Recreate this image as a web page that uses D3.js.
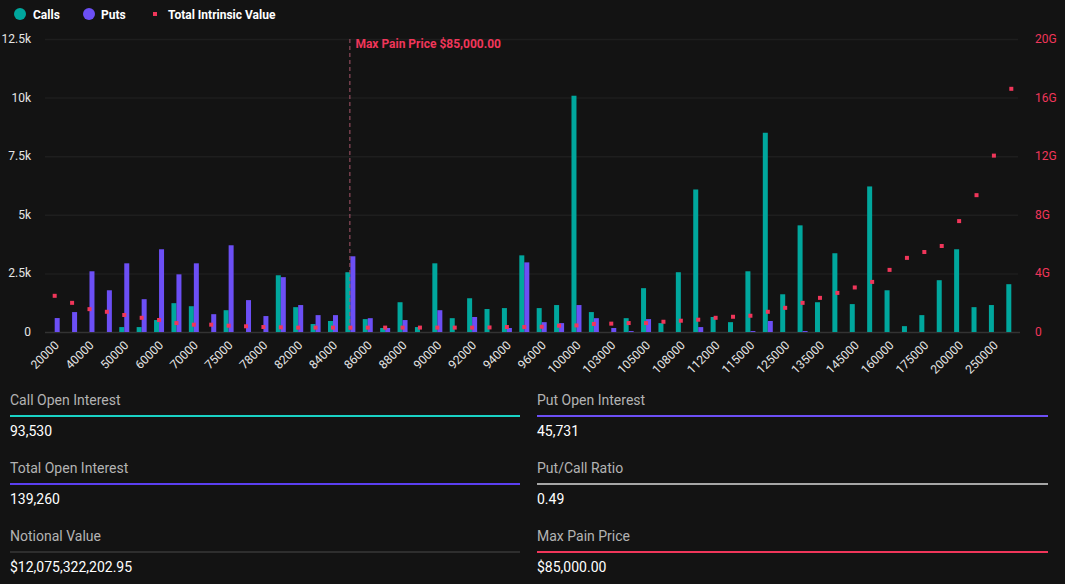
<!DOCTYPE html>
<html><head><meta charset="utf-8">
<script src="https://cdn.jsdelivr.net/npm/d3@7"></script>
<style>
html,body{margin:0;padding:0;background:#131313;}
svg{display:block;font-family:Roboto,"Noto Sans",sans-serif;}
</style></head>
<body>
<svg id="c" width="1065" height="584"></svg>
<script>
const strikes = ["20000","30000","40000","45000","50000","55000","60000","65000","70000","72000","75000","76000","78000","80000","82000","83000","84000","85000","86000","87000","88000","89000","90000","91000","92000","93000","94000","95000","96000","98000","100000","102000","103000","104000","105000","106000","108000","110000","112000","114000","115000","120000","125000","130000","135000","140000","145000","150000","160000","170000","175000","180000","200000","220000","250000","300000"];
const callsOI = [0,0,0,0,210,210,510,1230,1100,0,930,0,0,2420,1060,340,470,2550,550,170,1270,210,2930,590,1440,980,1020,3270,1020,1150,10080,850,0,590,1870,380,2550,6080,640,420,2590,8500,1610,4550,1270,3360,1190,6210,1780,250,720,2210,3530,1060,1150,2040];
const putsOI = [595,850,2590,1780,2930,1400,3530,2460,2930,760,3700,1360,680,2340,1150,720,720,3230,590,170,510,0,930,0,640,0,170,2970,420,380,1150,590,170,40,550,0,0,210,0,0,40,470,0,40,0,0,0,0,0,0,0,0,0,0,0,0];
const intrinsicG = [2.47,1.99,1.56,1.38,1.16,0.97,0.82,0.61,0.50,0.50,0.43,0.39,0.34,0.32,0.30,0.30,0.30,0.30,0.30,0.30,0.30,0.30,0.30,0.30,0.30,0.31,0.34,0.34,0.36,0.43,0.45,0.55,0.57,0.61,0.61,0.70,0.77,0.84,0.97,1.04,1.11,1.38,1.65,1.99,2.33,2.67,3.04,3.42,4.24,5.06,5.46,5.87,7.57,9.34,12.04,16.6];
const leftTicks = [0,2500,5000,7500,10000,12500];
const leftTickLabels = ["0","2.5k","5k","7.5k","10k","12.5k"];
const rightTicks = [0,4,8,12,16,20];
const rightTickLabels = ["0","4G","8G","12G","16G","20G"];
const maxPainStrike = "85000";
const statLabels = ["Call Open Interest","Put Open Interest","Total Open Interest","Put/Call Ratio","Notional Value","Max Pain Price"];
const statValues = ["93,530","45,731","139,260","0.49","$12,075,322,202.95","$85,000.00"];
const statColors = ["#19d3c5","#6c4ff5","#5b3ff0","#a6a6a6","#2e2e2e","#f0365a"];

const CALL="#00a79d", PUT="#6c4ff5", RED="#f0365a";
const svg = d3.select("#c");
const x0 = 46, x1 = 1020, yTop = 39, yBot = 332;
const x = d3.scaleBand().domain(strikes).range([x0,x1]).padding(0);
const yL = d3.scaleLinear().domain([0,12500]).range([yBot,yTop]);
const yR = d3.scaleLinear().domain([0,20]).range([yBot,yTop]);
const bw = 5;

// grid
svg.append("g").selectAll("line").data(leftTicks.slice(1)).join("line")
  .attr("x1",45).attr("x2",1018).attr("y1",d=>yL(d)+0.5).attr("y2",d=>yL(d)+0.5)
  .attr("stroke","#1e1e1e").attr("stroke-width",1.5);
svg.append("line").attr("x1",45).attr("x2",1020).attr("y1",yBot+0.5).attr("y2",yBot+0.5)
  .attr("stroke","#333").attr("stroke-width",1.5);

// left axis labels
svg.append("g").selectAll("text").data(leftTicks).join("text")
  .attr("x",31).attr("y",d=>yL(d)+4).attr("text-anchor","end")
  .attr("fill","#e6e6e6").attr("font-size",12).text((d,i)=>leftTickLabels[i]);
// right axis labels
svg.append("g").selectAll("text").data(rightTicks).join("text")
  .attr("x",1035).attr("y",d=>yR(d)+4).attr("text-anchor","start")
  .attr("fill",RED).attr("font-size",12).text((d,i)=>rightTickLabels[i]);

// bars
const cx = s => x(s) + x.bandwidth()/2;
svg.append("g").selectAll("rect").data(strikes).join("rect")
  .attr("x",s=>cx(s)-bw).attr("width",bw)
  .attr("y",(s,i)=>yL(callsOI[i])).attr("height",(s,i)=>yBot-yL(callsOI[i]))
  .attr("fill",CALL);
svg.append("g").selectAll("rect").data(strikes).join("rect")
  .attr("x",s=>cx(s)).attr("width",bw)
  .attr("y",(s,i)=>yL(putsOI[i])).attr("height",(s,i)=>yBot-yL(putsOI[i]))
  .attr("fill",PUT);

// max pain line
const mpx = cx(maxPainStrike);
svg.append("line").attr("x1",mpx-0.5).attr("x2",mpx-0.5).attr("y1",yTop).attr("y2",yBot)
  .attr("stroke","#a8566a").attr("stroke-width",1).attr("stroke-dasharray","4,3");
svg.append("text").attr("x",mpx+5).attr("y",48).attr("fill",RED)
  .attr("font-size",12).attr("font-weight","bold").text("Max Pain Price $85,000.00");

// intrinsic dots
svg.append("g").selectAll("rect").data(strikes).join("rect")
  .attr("x",s=>cx(s)-2).attr("y",(s,i)=>yR(intrinsicG[i])-2)
  .attr("width",4).attr("height",4).attr("fill",RED);

// x labels
svg.append("g").selectAll("text").data(strikes.filter((d,i)=>i%2===0)).join("text")
  .attr("transform",s=>`translate(${cx(s)+2},${343}) rotate(-45)`)
  .attr("text-anchor","end").attr("dy","0.35em")
  .attr("fill","#e6e6e6").attr("font-size",12).text(s=>s);

// legend
const lg = svg.append("g");
lg.append("circle").attr("cx",20).attr("cy",14).attr("r",6).attr("fill",CALL);
lg.append("text").attr("x",33).attr("y",18.5).attr("fill","#fff").attr("font-size",12).attr("font-weight","bold").text("Calls");
lg.append("circle").attr("cx",89).attr("cy",14).attr("r",6).attr("fill",PUT);
lg.append("text").attr("x",101).attr("y",18.5).attr("fill","#fff").attr("font-size",12).attr("font-weight","bold").text("Puts");
lg.append("rect").attr("x",153).attr("y",12).attr("width",4).attr("height",4).attr("fill",RED);
lg.append("text").attr("x",168).attr("y",18.5).attr("fill","#fff").attr("font-size",12).attr("font-weight","bold").text("Total Intrinsic Value");

// stats
const sg = svg.append("g");
statLabels.forEach((lab,i)=>{
  const col = i%2, row = Math.floor(i/2);
  const lx = col===0 ? 10 : 537;
  const lw = col===0 ? 510 : 511;
  const by = 400 + row*68;
  sg.append("text").attr("x",lx).attr("y",by+5).attr("fill","#b3b3b3").attr("font-size",14).text(lab);
  sg.append("rect").attr("x",lx).attr("y",by+15).attr("width",lw).attr("height",2).attr("fill",statColors[i]);
  sg.append("text").attr("x",lx).attr("y",by+36).attr("fill","#fff").attr("font-size",14).attr("font-weight",400).text(statValues[i]);
});
</script>
</body></html>
